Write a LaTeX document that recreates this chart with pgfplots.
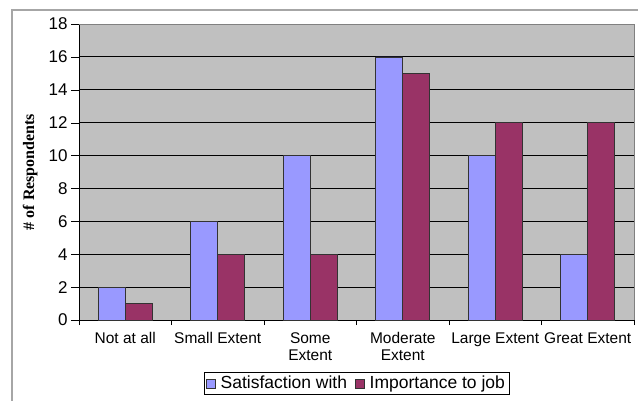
\documentclass[border=0pt]{standalone}
\usepackage{pgfplots}
\pgfplotsset{compat=1.18}
\usepackage{fontspec}
\setmainfont{Liberation Sans}
\newfontfamily\timesb{Liberation Serif}
\definecolor{sat}{HTML}{9999FF}
\definecolor{imp}{HTML}{993366}
\definecolor{plotbg}{HTML}{C0C0C0}
\begin{document}
\begin{tikzpicture}[x=1pt,y=1pt]
\useasboundingbox (0,0) rectangle (638,400);
\begin{scope}
\clip (0,0) rectangle (638,400);
\draw[gray!70, line width=1.2pt] (12,390) rectangle (660,-20);
\end{scope}
\begin{axis}[
  at={(79pt,80pt)}, anchor=south west,
  scale only axis, width=555pt, height=296pt,
  ybar=0pt, bar width=27pt,
  ymin=0, ymax=18, ytick={0,2,...,18},
  xmin=-0.5, xmax=5.5,
  xtick={0,...,5},
  xticklabels={Not at all, Small Extent, Some\\Extent, Moderate\\Extent, Large Extent, Great Extent},
  xticklabel style={align=center, font=\fontsize{15.5}{17}\selectfont, yshift=-1pt},
  yticklabel style={font=\fontsize{17}{19}\selectfont},
  /pgf/number format/assume math mode=true,
  major x tick style={draw=none},
  extra x ticks={-0.5,0.5,1.5,2.5,3.5,4.5,5.5},
  extra x tick labels={},
  extra x tick style={major tick length=5pt, major x tick style={draw=black}},
  tick align=outside, tick pos=left,
  major tick length=8pt,
  tick style={black},
  axis x line*=bottom, axis y line*=left,
  axis line style={black, -},
  axis background/.style={fill=plotbg},
  ymajorgrids, grid style={black, line width=0.8pt},
  ylabel={\timesb\bfseries \# of Respondents},
  ylabel style={at={(rel axis cs:-0.088,0.5)}, anchor=center, font=\fontsize{16}{18}\selectfont},
  legend style={at={(0.5,-0.1757)}, anchor=north, legend columns=2, draw=black,
    font=\fontsize{17.5}{19}\selectfont, inner sep=2pt,
    /tikz/every odd column/.append style={column sep=3pt},
    /tikz/every even column/.append style={column sep=6pt}},
  legend image code/.code={\draw[#1, draw=black!80] (0pt,-4.5pt) rectangle (9pt,4.5pt);},
  after end axis/.code={\draw[gray] (rel axis cs:0,1) -- (rel axis cs:1,1) -- (rel axis cs:1,0);},
]
\addplot[fill=sat, draw=black!80, line width=0.6pt] coordinates {(0,2)(1,6)(2,10)(3,16)(4,10)(5,4)};
\addplot[fill=imp, draw=black!80, line width=0.6pt] coordinates {(0,1)(1,4)(2,4)(3,15)(4,12)(5,12)};
\legend{Satisfaction with, Importance to job}
\end{axis}
\end{tikzpicture}
\end{document}
